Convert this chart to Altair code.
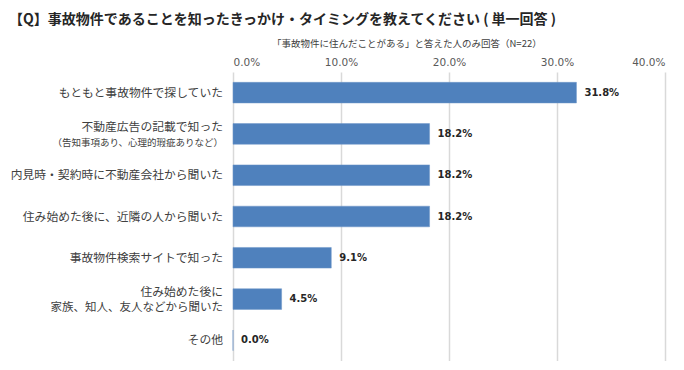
import altair as alt
import pandas as pd

title_text = "【Q】事故物件であることを知ったきっかけ・タイミングを教えてください ( 単一回答 )"
subtitle_text = "「事故物件に住んだことがある」と答えた人のみ回答（N=22）"

categories = [
    "もともと事故物件で探していた",
    "不動産広告の記載で知った",
    "内見時・契約時に不動産会社から聞いた",
    "住み始めた後に、近隣の人から聞いた",
    "事故物件検索サイトで知った",
    "住み始めた後に家族、知人、友人などから聞いた",
    "その他",
]
values = [0.318, 0.182, 0.182, 0.182, 0.091, 0.045, 0.0]
label_line1 = [
    "もともと事故物件で探していた",
    "不動産広告の記載で知った",
    "内見時・契約時に不動産会社から聞いた",
    "住み始めた後に、近隣の人から聞いた",
    "事故物件検索サイトで知った",
    "住み始めた後に",
    "その他",
]
label_line2 = ["", "（告知事項あり、心理的瑕疵ありなど）", "", "", "", "家族、知人、友人などから聞いた", ""]
line2_size = [11.5, 9.5, 11.5, 11.5, 11.5, 11.5, 11.5]
tick_values = [0.0, 0.1, 0.2, 0.3, 0.4]

df = pd.DataFrame({
    "cat": categories,
    "value": values,
    "line1": label_line1,
    "line2": label_line2,
    "size2": line2_size,
})
df["two"] = df["line2"] != ""

JP = "Noto Sans CJK JP"
NUM = "DejaVu Sans"

y_enc = alt.Y("cat:N", sort=categories, axis=None,
              scale=alt.Scale(paddingInner=0.5, paddingOuter=0.25))
x_enc = alt.X("value:Q", scale=alt.Scale(domain=[0, 0.4]),
              axis=alt.Axis(orient="top", values=tick_values, format=".1%",
                            grid=True, gridColor="#d9d9d9", gridWidth=1.5,
                            domain=False, ticks=False, labelFont=NUM,
                            labelFontSize=10.5, labelColor="#595959",
                            labelPadding=5, title=None))

base = alt.Chart(df)

bars = base.mark_bar(color="#4f81bd", stroke="#6f97c9", strokeWidth=0.5).encode(
    x=x_enc, y=y_enc)

vlabels = base.mark_text(align="left", baseline="middle", dx=8, font=NUM,
                         fontWeight="bold", fontSize=10, color="#262626").encode(
    x="value:Q", y=alt.Y("cat:N", sort=categories),
    text=alt.Text("value:Q", format=".1%"))

single = base.transform_filter("!datum.two").mark_text(
    align="right", baseline="middle", font=JP, fontSize=11.8, color="#404040").encode(
    x=alt.value(-10), y=alt.Y("cat:N", sort=categories), text="line1:N")

first = base.transform_filter("datum.two").mark_text(
    align="right", baseline="middle", font=JP, fontSize=11.8, color="#404040", dy=-7).encode(
    x=alt.value(-10), y=alt.Y("cat:N", sort=categories), text="line1:N")

second = base.transform_filter("datum.two").mark_text(
    align="right", baseline="middle", font=JP, color="#404040", dy=9).encode(
    x=alt.value(-10), y=alt.Y("cat:N", sort=categories), text="line2:N",
    size=alt.Size("size2:Q", scale=None, legend=None))

sub = alt.Chart(pd.DataFrame({"t": [subtitle_text]})).mark_text(
    align="left", baseline="middle", font=JP, fontSize=9.5, color="#404040").encode(
    x=alt.value(39), y=alt.value(-28), text="t:N")

chart = alt.layer(bars, vlabels, single, first, second, sub).properties(
    width=432, height=289,
    autosize=alt.AutoSizeParams(type="none"),
    padding={"left": 225, "top": 64, "right": 10, "bottom": 0},
    title=alt.TitleParams(title_text, anchor="start", frame="group", dx=-224,
                          font=JP, fontSize=14, fontWeight="bold",
                          color="#262626", offset=12),
).configure_view(stroke=None)

chart.save("out.html", embed_options={"renderer": "svg", "actions": False})
